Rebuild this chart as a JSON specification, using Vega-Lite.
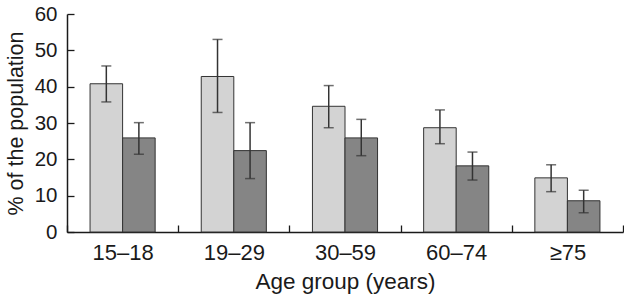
{
  "$schema": "https://vega.github.io/schema/vega-lite/v6.json",
  "width": 556,
  "height": 218,
  "autosize": "none",
  "padding": {"left": 67, "top": 14, "right": 1, "bottom": 66},
  "background": "white",
  "config": {
    "view": {"stroke": null},
    "font": "Liberation Sans",
    "axis": {"labelFont": "Liberation Sans", "titleFont": "Liberation Sans", "labelColor": "#1a1a1a", "titleColor": "#1a1a1a", "titleFontWeight": "normal", "domainColor": "#1a1a1a", "tickColor": "#1a1a1a", "domainWidth": 1.5, "tickWidth": 1.3, "grid": false, "labelOverlap": false, "labelBound": false}
  },
  "data": {
    "values": [
      {"group": "15–18", "series": "A", "value": 40.8, "lo": 35.8, "hi": 45.7},
      {"group": "15–18", "series": "B", "value": 25.9, "lo": 21.4, "hi": 30.1},
      {"group": "19–29", "series": "A", "value": 42.8, "lo": 32.9, "hi": 53.0},
      {"group": "19–29", "series": "B", "value": 22.4, "lo": 14.7, "hi": 30.1},
      {"group": "30–59", "series": "A", "value": 34.6, "lo": 28.7, "hi": 40.3},
      {"group": "30–59", "series": "B", "value": 25.9, "lo": 21.0, "hi": 31.0},
      {"group": "60–74", "series": "A", "value": 28.7, "lo": 24.3, "hi": 33.6},
      {"group": "60–74", "series": "B", "value": 18.2, "lo": 14.3, "hi": 22.0},
      {"group": "≥75", "series": "A", "value": 14.9, "lo": 11.1, "hi": 18.5},
      {"group": "≥75", "series": "B", "value": 8.6, "lo": 5.3, "hi": 11.5}
    ]
  },
  "encoding": {
    "x": {
      "field": "group", "type": "nominal", "sort": null,
      "scale": {"paddingInner": 0, "paddingOuter": 0},
      "axis": {"title": "Age group (years)", "labelAngle": 0, "labelFontSize": 22, "titleFontSize": 22.5, "tickBand": "extent", "tickSize": -7, "labelPadding": 17, "titlePadding": 7}
    },
    "xOffset": {"field": "series", "type": "nominal", "scale": {"paddingOuter": 0.708, "paddingInner": 0}}
  },
  "layer": [
    {
      "mark": {"type": "bar", "stroke": "#333333", "strokeWidth": 1},
      "encoding": {
        "y": {
          "field": "value", "type": "quantitative",
          "scale": {"domain": [0, 60], "nice": false},
          "axis": {"title": "% of the population", "values": [0, 10, 20, 30, 40, 50, 60], "labelFontSize": 20.5, "titleFontSize": 21.5, "tickSize": -7, "labelPadding": 17, "titlePadding": 7}
        },
        "fill": {"field": "series", "type": "nominal", "scale": {"domain": ["A", "B"], "range": ["#d3d3d3", "#858585"]}, "legend": null}
      }
    },
    {
      "mark": {"type": "rule", "color": "#333333", "strokeWidth": 1.5},
      "encoding": {
        "y": {"field": "lo", "type": "quantitative", "axis": {"title": "% of the population", "values": [0, 10, 20, 30, 40, 50, 60]}},
        "y2": {"field": "hi"}
      }
    },
    {
      "mark": {"type": "tick", "color": "#333333", "thickness": 1.5, "size": 10, "orient": "horizontal"},
      "encoding": {"y": {"field": "lo", "type": "quantitative", "axis": {"title": "% of the population", "values": [0, 10, 20, 30, 40, 50, 60]}}}
    },
    {
      "mark": {"type": "tick", "color": "#333333", "thickness": 1.5, "size": 10, "orient": "horizontal"},
      "encoding": {"y": {"field": "hi", "type": "quantitative", "axis": {"title": "% of the population", "values": [0, 10, 20, 30, 40, 50, 60]}}}
    }
  ]
}
